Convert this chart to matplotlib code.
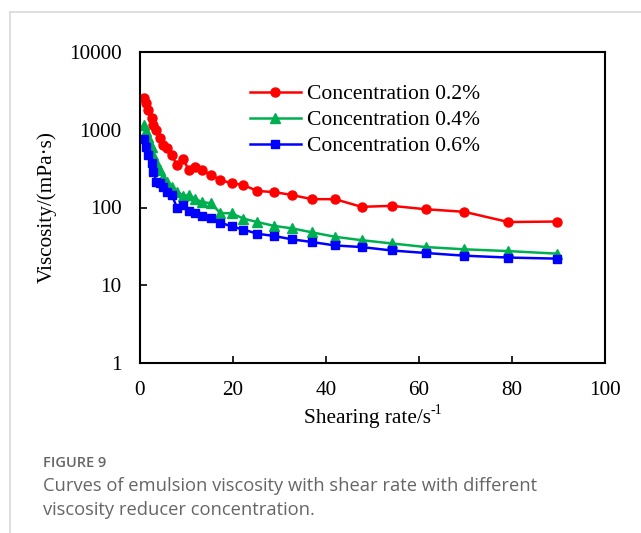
import matplotlib
matplotlib.use("Agg")
import matplotlib.pyplot as plt
from matplotlib.lines import Line2D

shear_rate = [1.0, 1.35, 1.85, 2.6, 2.9, 3.6, 4.4, 5.1, 5.8, 6.9, 8.0, 9.4, 10.5, 11.9, 13.3,
              15.4, 17.3, 19.8, 22.3, 25.3, 28.9, 32.7, 37.0, 42.0, 47.7, 54.2, 61.5, 69.8, 79.3, 89.7]
visc_02 = [2580, 2190, 1800, 1400, 1150, 990, 777, 637, 577, 473, 352, 421, 303, 335, 303,
           262, 226, 205, 195, 163, 158, 145, 128, 128, 102, 105, 95, 88, 65, 66]
visc_04 = [1150, 950, 800, 600, 480, 380, 300, 250, 215, 185, 160, 140, 145, 130, 118,
           113, 85, 84, 72, 65, 58, 54, 48, 42, 38, 34.5, 31, 29, 27.5, 25.5]
visc_06 = [760, 600, 470, 370, 290, 215, 205, 185, 160, 145, 100, 108, 90, 84, 78,
           73, 64, 57, 52, 46, 43, 39, 36, 32.5, 31, 28, 26, 24, 22.7, 22]
labels = ["Concentration 0.2%", "Concentration 0.4%", "Concentration 0.6%"]
x_ticks = [0, 20, 40, 60, 80, 100]
y_ticks = [1, 10, 100, 1000, 10000]
y_tick_labels = ["1", "10", "100", "1000", "10000"]

serif = ["Liberation Serif", "DejaVu Serif"]
FS = 15.3

fig = plt.figure(figsize=(6.41, 5.33), dpi=100)
W, H = 641, 533

# light frame lines of the page
fig.add_artist(Line2D([10 / W, 10 / W], [0, 1 - 12 / H], transform=fig.transFigure,
                      color="#d9d9d9", lw=1.2))
fig.add_artist(Line2D([10 / W, 1], [1 - 12 / H, 1 - 12 / H], transform=fig.transFigure,
                      color="#d9d9d9", lw=1.2))

ax = fig.add_axes([139.7 / W, 1 - 363 / H, (604.7 - 139.7) / W, (363 - 52) / H])
ax.set_yscale("log")
ax.set_xlim(0, 100)
ax.set_ylim(1, 10000)

series = [(visc_02, "#ff0000", "o", 6.5), (visc_04, "#00b050", "^", 6.5), (visc_06, "#0000ff", "s", 6.0)]
for (vals, col, mk, ms), lab in zip(series, labels):
    ax.plot(shear_rate, vals, color=col, marker=mk, markersize=ms, lw=1.8, label=lab)

ax.set_xticks(x_ticks)
ax.set_xticklabels([str(t) for t in x_ticks], fontfamily=serif, fontsize=FS)
ax.set_yticks(y_ticks)
ax.set_yticklabels(y_tick_labels, fontfamily=serif, fontsize=FS)
ax.minorticks_off()
ax.tick_params(axis="x", direction="in", length=5, width=1.2, pad=13, top=False)
ax.tick_params(axis="y", direction="in", length=5, width=1.2, pad=13, right=False)
for sp in ax.spines.values():
    sp.set_linewidth(1.5)
    sp.set_color("black")

# x label with a text-hyphen superscript
fig.text(431 / W, 1 - 418 / H, "Shearing rate/s", fontfamily=serif, fontsize=FS,
         ha="right", va="center")
fig.text(431 / W, 1 - 411 / H, "-1", fontfamily=serif, fontsize=10,
         ha="left", va="center")
ax.set_ylabel("Viscosity/(mPa·s)", fontfamily=serif, fontsize=FS, labelpad=9)

leg = ax.legend(loc="upper left", bbox_to_anchor=(250 / W, 1 - 84 / H),
                bbox_transform=fig.transFigure, frameon=False, prop={"family": serif, "size": 15.6},
                handlelength=2.35, handletextpad=0.3, labelspacing=0.27, borderpad=0,
                borderaxespad=0)

fig.text(43 / W, 1 - 463 / H, "FIGURE 9", fontfamily=["Open Sans", "DejaVu Sans"],
         fontsize=10.5, color="#666666", va="center", ha="left", fontweight="semibold")
fig.text(43 / W, 1 - 486 / H, "Curves of emulsion viscosity with shear rate with different",
         fontfamily=["Open Sans", "DejaVu Sans"], fontsize=13.25, color="#666666",
         va="center", ha="left")
fig.text(43 / W, 1 - 510 / H, "viscosity reducer concentration.",
         fontfamily=["Open Sans", "DejaVu Sans"], fontsize=13.25, color="#666666",
         va="center", ha="left")

fig.savefig("out.png", dpi=100)
